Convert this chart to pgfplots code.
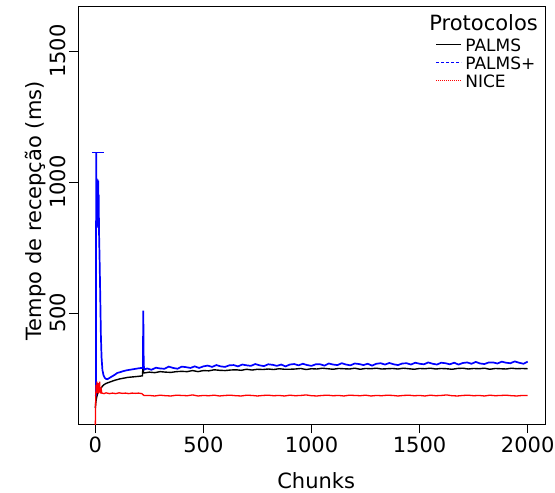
\documentclass[border=0pt]{standalone}
\usepackage{pgfplots}
\pgfplotsset{compat=1.18}
\usepackage{fontspec}
\setmainfont{DejaVu Sans}
\begin{document}
\begin{tikzpicture}
\begin{axis}[
  at={(0,0)}, anchor=south west,
  scale only axis, width=467pt, height=418pt,
  xmin=-80, xmax=2080, ymin=76, ymax=1672,
  xtick={0,500,1000,1500,2000}, ytick={500,1000,1500},
  xtick pos=lower, ytick pos=left,
  tick align=outside, major tick length=9pt,
  axis line style={line width=0.8pt}, tick style={line width=0.8pt, black},
  /pgf/number format/assume math mode=true,
  /pgf/number format/set thousands separator={},
  ticklabel style={font=\fontsize{21}{23}\selectfont},
  yticklabel style={rotate=90, anchor=south},
  xlabel={Chunks}, ylabel={Tempo de recepção (ms)},
  label style={font=\fontsize{21}{24}\selectfont},
  xlabel style={at={(axis description cs:0.51,-0.136)}, anchor=center},
  ylabel style={at={(axis description cs:-0.092,0.51)}, anchor=center},
  clip=true,
  legend style={draw=none, fill=none, inner sep=0pt,
    at={(axis description cs:0.767,0.921)}, anchor=north west,
    font=\fontsize{17}{18}\selectfont, row sep=5.5pt, column sep=4pt,
    nodes={inner sep=0pt, text height=12.5pt, text depth=0pt}},
  legend cell align=left,
  legend image code/.code={\draw[#1, transform canvas={yshift=-5pt}] (0pt,6pt) -- (25pt,6pt);},
]
\addlegendimage{draw=black, solid, line width=0.8pt}\addlegendentry{PALMS}
\addlegendimage{draw=blue, dash pattern=on 3pt off 2pt, line width=0.8pt}\addlegendentry{PALMS+}
\addlegendimage{draw=red, dash pattern=on 1pt off 1pt, line width=0.8pt}\addlegendentry{NICE}
% PALMS (black)
\addplot[black, line width=1.4pt, forget plot] coordinates {
(0,137) (2,155) (4,168) (7,180) (10,190) (14,198) (20,206) (26,213) (33,220) (40,226) (50,231) (60,234) (70,237) (80,240) (90,243) (100,245) (112,248) (125,250) (138,252) (150,254) (163,255) (175,256) (188,257) (200,258) (210,259) (218,260) (219,271) (221,314) (223,273) (226,271)
(250,274) (275,272) (300,276) (325,274) (350,273) (375,276) (400,277) (425,276) (450,280) (475,276) (500,280) (525,279) (550,283) (575,281) (600,280) (625,282) (650,283) (675,281) (700,285) (725,282) (750,285) (775,284) (800,286) (825,284) (850,287) (875,285) (900,285) (925,286) (950,288) (975,284) (1000,287) (1025,286) (1050,289) (1075,287) (1100,285) (1125,288) (1150,287) (1175,286) (1200,289) (1225,285) (1250,288) (1275,287) (1300,289) (1325,286) (1350,287) (1375,288) (1400,286) (1425,289) (1450,287) (1475,285) (1500,288) (1525,287) (1550,289) (1575,286) (1600,288) (1625,287) (1650,285) (1675,288) (1700,289) (1725,286) (1750,288) (1775,287) (1800,289) (1825,285) (1850,288) (1875,287) (1900,286) (1925,289) (1950,287) (1975,288) (2000,287)
};
% PALMS+ (blue)
\addplot[blue, line width=1.7pt, forget plot] coordinates {
(0,183) (3,185) (4,1110) (5,960) (6,1015) (7,840) (8,1000) (9,830) (10,1010) (11,850) (12,990) (13,825) (14,1005) (15,860) (16,950) (17,820) (20,700) (23,560) (26,410) (29,330) (33,282) (38,262) (44,252) (50,248) (55,247) (60,249) (70,254) (80,259) (90,264) (102,271) (115,274) (130,278) (145,281) (160,283) (181,286) (196,288) (212,290) (220,290) (222,509) (224,300) (227,284)
(240,288) (260,283) (280,291) (300,288) (320,287) (340,295) (360,290) (380,287) (400,295) (420,293) (440,290) (460,296) (480,290) (500,296) (520,299) (540,294) (560,301) (580,296) (600,294) (620,300) (640,301) (660,296) (680,303) (700,300) (720,298) (740,305) (760,300) (780,297) (800,304) (820,302) (840,298) (860,303) (880,296) (900,303) (920,305) (940,300) (960,306) (980,301) (1000,298) (1020,304) (1040,304) (1060,299) (1080,307) (1100,303) (1120,301) (1140,308) (1160,303) (1180,300) (1200,307) (1220,305) (1240,301) (1260,306) (1280,299) (1300,306) (1320,308) (1340,303) (1360,309) (1380,304) (1400,301) (1420,307) (1440,308) (1460,303) (1480,310) (1500,306) (1520,304) (1540,311) (1560,306) (1580,303) (1600,310) (1620,308) (1640,304) (1660,310) (1680,303) (1700,309) (1720,311) (1740,306) (1760,313) (1780,307) (1800,305) (1820,311) (1840,311) (1860,307) (1880,314) (1900,310) (1920,308) (1940,315) (1960,310) (1980,306) (2000,314)
};
\addplot[blue, line width=1.2pt, forget plot] coordinates {(-16,1112) (42,1112)};
% NICE (red)
\addplot[red, line width=1.3pt, forget plot] coordinates {
(0,60) (2,181) (4,225) (6,195) (8,238) (10,200) (12,232) (14,192) (16,228) (18,205) (20,238) (22,196) (24,215) (26,192) (28,205) (30,194) (40,192) (50,195) (65,192) (80,194) (95,192) (110,195) (125,193) (140,194) (155,192) (170,194) (185,193) (200,194) (215,192) (225,185)
(250,185) (275,183) (300,186) (325,184) (350,183) (375,186) (400,185) (425,184) (450,187) (475,183) (500,185) (525,184) (550,186) (575,183) (600,185) (625,186) (650,184) (675,183) (700,186) (725,185) (750,183) (775,185) (800,186) (825,184) (850,185) (875,183) (900,186) (925,184) (950,185) (975,187) (1000,184) (1025,183) (1050,185) (1075,186) (1100,184) (1125,185) (1150,183) (1175,186) (1200,185) (1225,184) (1250,186) (1275,183) (1300,185) (1325,184) (1350,186) (1375,185) (1400,183) (1425,185) (1450,186) (1475,184) (1500,185) (1525,183) (1550,186) (1575,184) (1600,185) (1625,187) (1650,184) (1675,183) (1700,185) (1725,186) (1750,184) (1775,185) (1800,183) (1825,186) (1850,184) (1875,185) (1900,186) (1925,184) (1950,183) (1975,185) (2000,185)
};
\node[anchor=east, font=\fontsize{21}{24}\selectfont, inner sep=0pt] at (axis description cs:0.985,0.959) {Protocolos};
\end{axis}
\pgfresetboundingbox
\useasboundingbox (-78pt,-69pt) rectangle (477pt,424pt);
\end{tikzpicture}
\end{document}
